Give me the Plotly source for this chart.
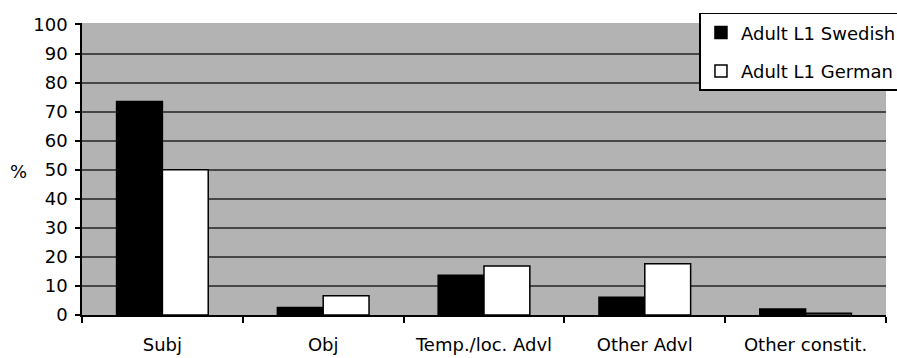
import plotly.graph_objects as go

categories = ["Subj", "Obj", "Temp./loc. Advl", "Other Advl", "Other constit."]
swedish = [73.5, 2.6, 13.7, 6.1, 2.1]
german = [50.0, 6.6, 16.9, 17.6, 0.6]
series_names = ["Adult L1 Swedish", "Adult L1 German"]
y_ticks = list(range(0, 101, 10))
grid_vals = list(range(10, 100, 10))

FONT = "DejaVu Sans"
FS = 18

fig = go.Figure()
fig.add_trace(go.Bar(
    x=categories, y=swedish, name=series_names[0], legendgroup="a",
    marker=dict(color="black", line=dict(color="black", width=1.5)),
))
fig.add_trace(go.Bar(
    x=categories, y=german, name=series_names[1], legendgroup="b",
    marker=dict(color="white", line=dict(color="black", width=1.5)),
))

fig.update_layout(
    width=897, height=358,
    margin=dict(l=82, r=11, t=23, b=43, autoexpand=False),
    paper_bgcolor="white",
    plot_bgcolor="#b3b3b3",
    barmode="group",
    bargap=0.43,
    bargroupgap=0,
    font=dict(family=FONT, size=FS, color="black"),
    showlegend=True,
    legend=dict(
        x=0.768, y=1.035, xanchor="left", yanchor="top",
        bgcolor="white", bordercolor="black", borderwidth=1.5,
        font=dict(family=FONT, size=FS, color="black"),
        traceorder="grouped", tracegroupgap=12,
        itemclick=False,
    ),
    xaxis=dict(
        type="category",
        tickson="boundaries",
        ticks="outside", ticklen=6, tickcolor="black", tickwidth=1.5,
        showline=True, linecolor="black", linewidth=1.5,
        showgrid=False,
        tickfont=dict(family=FONT, size=FS),
        ticklabelstandoff=13,
    ),
    yaxis=dict(
        range=[0, 100.5],
        tickvals=y_ticks,
        ticks="outside", ticklen=5, tickcolor="black", tickwidth=1.5,
        showline=True, linecolor="black", linewidth=1.5,
        showgrid=False,
        zeroline=False,
        tickfont=dict(family=FONT, size=FS),
        ticklabelstandoff=4,
        minor=dict(tickvals=grid_vals, showgrid=True, gridcolor="#474747",
                   gridwidth=1.5, ticks=""),
    ),
    annotations=[dict(
        text="%", x=(18.5 - 82) / 804, y=(315.5 - 172) / 292,
        xref="paper", yref="paper", xanchor="center", yanchor="middle",
        showarrow=False, font=dict(family=FONT, size=FS),
    )],
)

fig.write_html("out.html")
